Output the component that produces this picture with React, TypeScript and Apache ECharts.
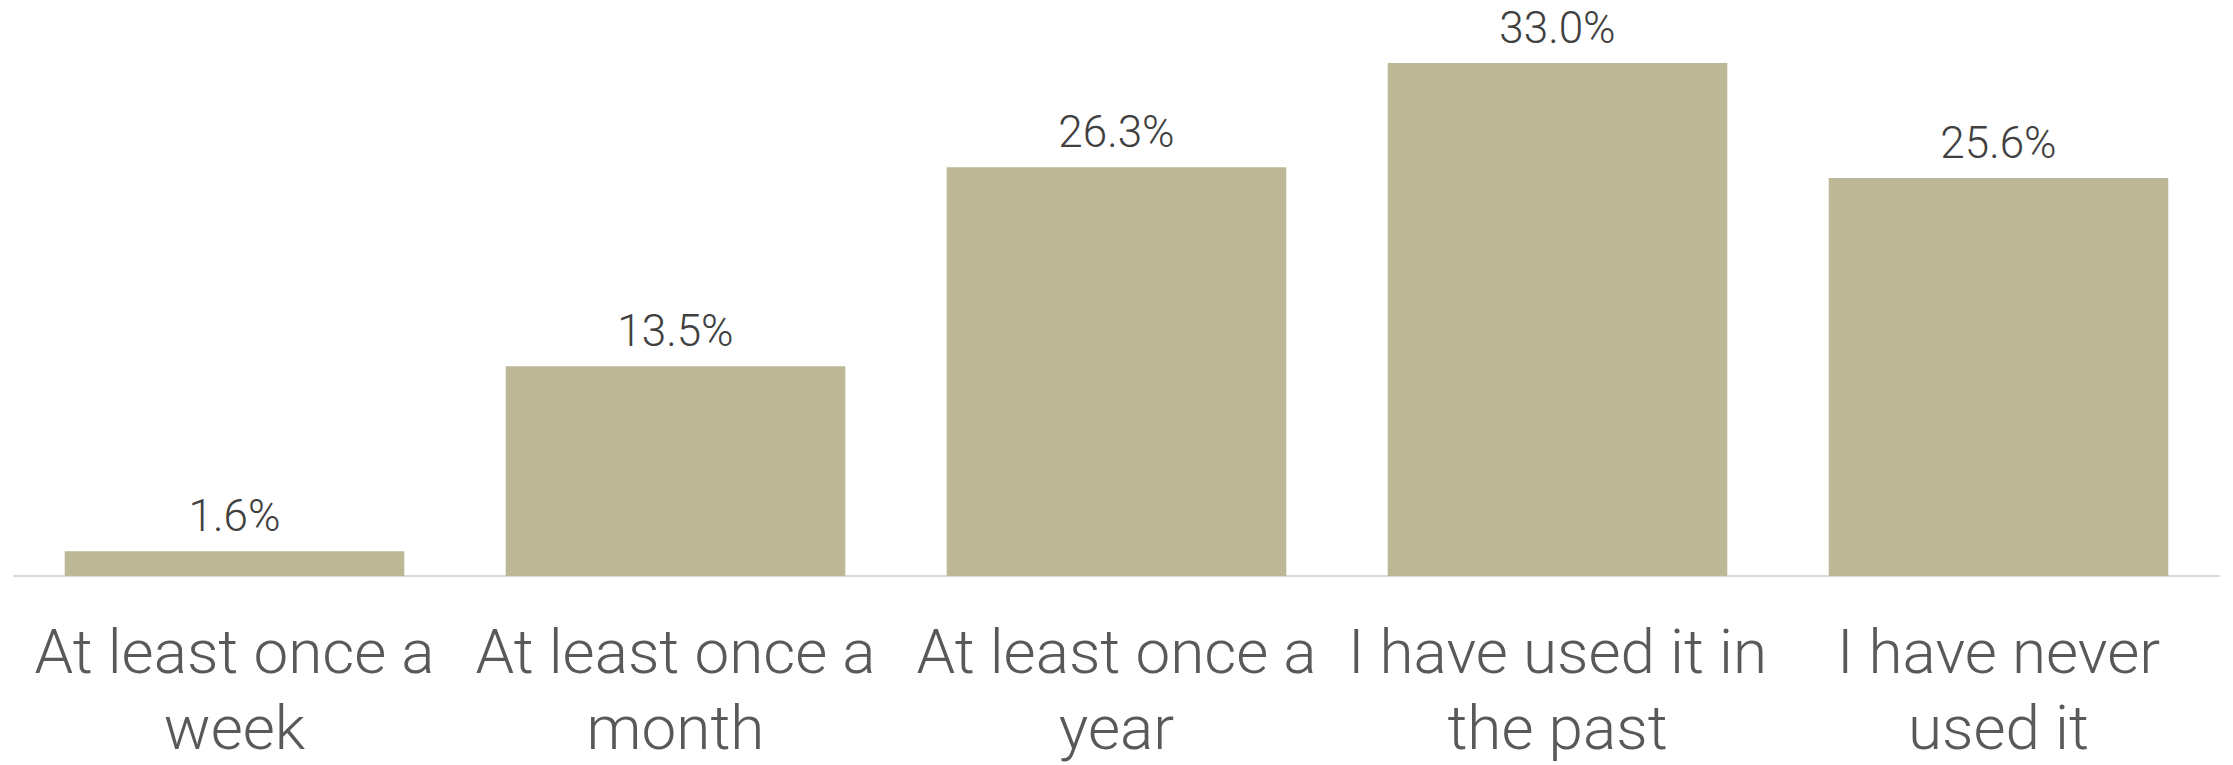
import React, { useEffect, useRef } from "react";
import * as echarts from "echarts";

const categories = [
  "At least once a\nweek",
  "At least once a\nmonth",
  "At least once a\nyear",
  "I have used it in\nthe past",
  "I have never\nused it",
];
const values = [1.6, 13.5, 26.3, 33.0, 25.6];

export default function App() {
  const ref = useRef<HTMLDivElement>(null);
  useEffect(() => {
    document.body.style.margin = "0";
    const chart = echarts.init(ref.current!, null, { renderer: "svg" });
    chart.setOption({
      animation: false,
      grid: { left: 14, right: 14, top: 32, bottom: 187 },
      xAxis: {
        type: "category",
        data: categories,
        axisLine: { show: true, lineStyle: { color: "#D9D9D9", width: 2 } },
        axisTick: { show: false },
        axisLabel: {
          interval: 0,
          margin: 37,
          fontFamily: "Roboto",
          fontWeight: 300,
          fontSize: 62,
          lineHeight: 76,
          color: "#595959",
        },
      },
      yAxis: {
        type: "value",
        min: 0,
        max: 35,
        show: false,
        splitLine: { show: false },
      },
      series: [
        {
          type: "bar",
          data: values,
          barWidth: "77%",
          itemStyle: { color: "#BCB897" },
          label: {
            show: true,
            position: "top",
            distance: 13,
            formatter: (p: any) => p.value.toFixed(1) + "%",
            fontFamily: "Roboto",
            fontWeight: 300,
            fontSize: 44,
            color: "#404040",
          },
        },
      ],
    });
    return () => chart.dispose();
  }, []);
  return <div ref={ref} style={{ width: 2233, height: 765 }} />;
}
